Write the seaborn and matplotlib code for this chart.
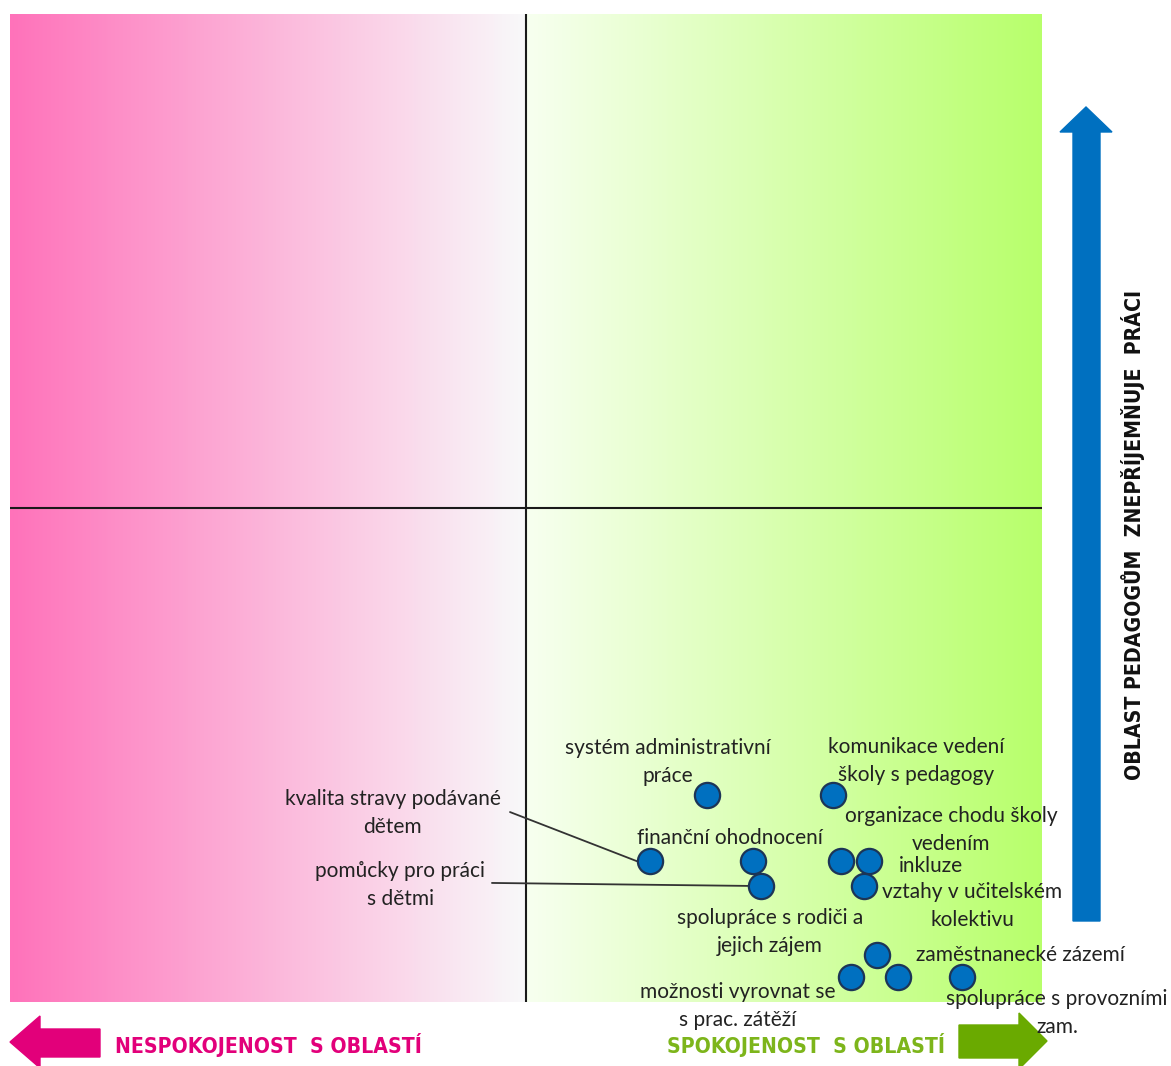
import numpy as np
import pandas as pd
import matplotlib
matplotlib.use('Agg')
import matplotlib.pyplot as plt
from matplotlib import font_manager
from matplotlib.colors import LinearSegmentedColormap
from matplotlib.patches import Polygon
import seaborn as sns

# data: x = spokojenost (1-5), y = oblast znepříjemňuje práci (1-5)
labels = ["systém administrativní\npráce", "komunikace vedení\nškoly s pedagogy",
          "kvalita stravy podávané\ndětem", "finanční ohodnocení",
          "pomůcky pro práci\ns dětmi", "organizace chodu školy\nvedením", "inkluze",
          "vztahy v učitelském\nkolektivu", "spolupráce s rodiči a\njejich zájem",
          "zaměstnanecké zázemí", "možnosti vyrovnat se\ns prac. zátěží",
          "spolupráce s provozními\nzam."]
spokojenost = [3.70, 4.19, 3.48, 3.88, 3.91, 4.22, 4.33, 4.31, 4.36, 4.26, 4.44, 4.69]
znepriJemnuje = [1.84, 1.84, 1.57, 1.57, 1.47, 1.57, 1.57, 1.47, 1.19, 1.10, 1.10, 1.10]

# where the labels sit (data units), leader line start for two of them
label_pos = [(3.55, 1.972), (4.512, 1.976), (2.484, 1.765), (3.791, 1.664),
             (2.512, 1.474), (4.647, 1.696), (4.570, 1.551), (4.729, 1.389),
             (3.946, 1.283), (4.915, 1.190), (3.822, 0.984), (5.058, 0.955)]
leaders = {2: (2.938, 1.769), 4: (2.868, 1.482)}

df = pd.DataFrame({'oblast': labels, 'x': spokojenost, 'y': znepriJemnuje})

sns.set_style('white')
plt.rcParams['font.family'] = ['Lato', 'DejaVu Sans']

# look for a narrow bold face for the arrow captions
narrow = None
for f in font_manager.fontManager.ttflist:
    if ('Narrow' in f.name or 'Condensed' in f.name or 'condensed' in str(f.stretch)) \
            and str(f.weight) in ('bold', '700'):
        narrow = f.fname
        break
if narrow:
    cap_font = dict(fontproperties=font_manager.FontProperties(fname=narrow, size=15.2))
else:
    cap_font = dict(family=['Roboto', 'DejaVu Sans'], fontweight='bold', fontsize=14)

W, H = 1171, 1066
fig = plt.figure(figsize=(W / 100, H / 100), dpi=100)
ax = fig.add_axes([10 / W, 64 / H, 1032 / W, 988 / H])

# gradient background
cmap = LinearSegmentedColormap.from_list('bg', [
    (0.0, (1.0, 0.45, 0.73)), (0.499, (0.975, 0.975, 0.98)),
    (0.501, (0.97, 1.0, 0.94)), (1.0, (0.72, 1.0, 0.42))])
grad = np.linspace(0, 1, 512).reshape(1, -1)
ax.imshow(grad, cmap=cmap, aspect='auto', extent=[1, 5, 1, 5], zorder=0)

ax.axvline(3, color='#1a1a1a', lw=1.5, zorder=1)
ax.axhline(3, color='#1a1a1a', lw=1.5, zorder=1)

for i, (sx, sy) in leaders.items():
    ax.plot([sx, spokojenost[i] - 0.05], [sy, znepriJemnuje[i]], color='#333333', lw=1.3, zorder=2)

sns.scatterplot(data=df, x='x', y='y', s=330, color='#0070C0', edgecolor='#1c3557',
                linewidth=1.6, ax=ax, zorder=3, legend=False)

for lab, (lx, ly) in zip(labels, label_pos):
    ax.text(lx, ly, lab, ha='center', va='center', fontsize=15, color='#222222',
            linespacing=1.52, zorder=4)

ax.set_xlim(1, 5)
ax.set_ylim(1, 5)
ax.set_xticks([])
ax.set_yticks([])
ax.set_xlabel('')
ax.set_ylabel('')
sns.despine(ax=ax, left=True, bottom=True)

# overlay in pixel units for the arrows
ov = fig.add_axes([0, 0, 1, 1], zorder=-1)
ov.set_xlim(0, W)
ov.set_ylim(H, 0)
ov.axis('off')

pink = '#E2007A'
green = '#6AAA00'
blue = '#0070C0'
ov.add_patch(Polygon([(10, 1042), (40, 1016), (40, 1029), (100, 1029), (100, 1057),
                      (40, 1057), (40, 1068)], closed=True, color=pink))
ov.add_patch(Polygon([(1047, 1041), (1019, 1013), (1019, 1025), (959, 1025), (959, 1058),
                      (1019, 1058), (1019, 1069)], closed=True, color=green))
ov.add_patch(Polygon([(1086, 107), (1112, 132), (1100, 132), (1100, 921), (1073, 921),
                      (1073, 132), (1060, 132)], closed=True, color=blue))

ov.text(268, 1045, "NESPOKOJENOST  S OBLASTÍ", ha='center', va='center', color=pink, **cap_font)
ov.text(806, 1045, "SPOKOJENOST  S OBLASTÍ", ha='center', va='center', color='#7DB51B', **cap_font)
ov.text(1133, 535, "OBLAST PEDAGOGŮM  ZNEPŘÍJEMŇUJE  PRÁCI", ha='center', va='center',
        rotation=90, color='#111111', **cap_font)

fig.savefig('out.png', dpi=100)
